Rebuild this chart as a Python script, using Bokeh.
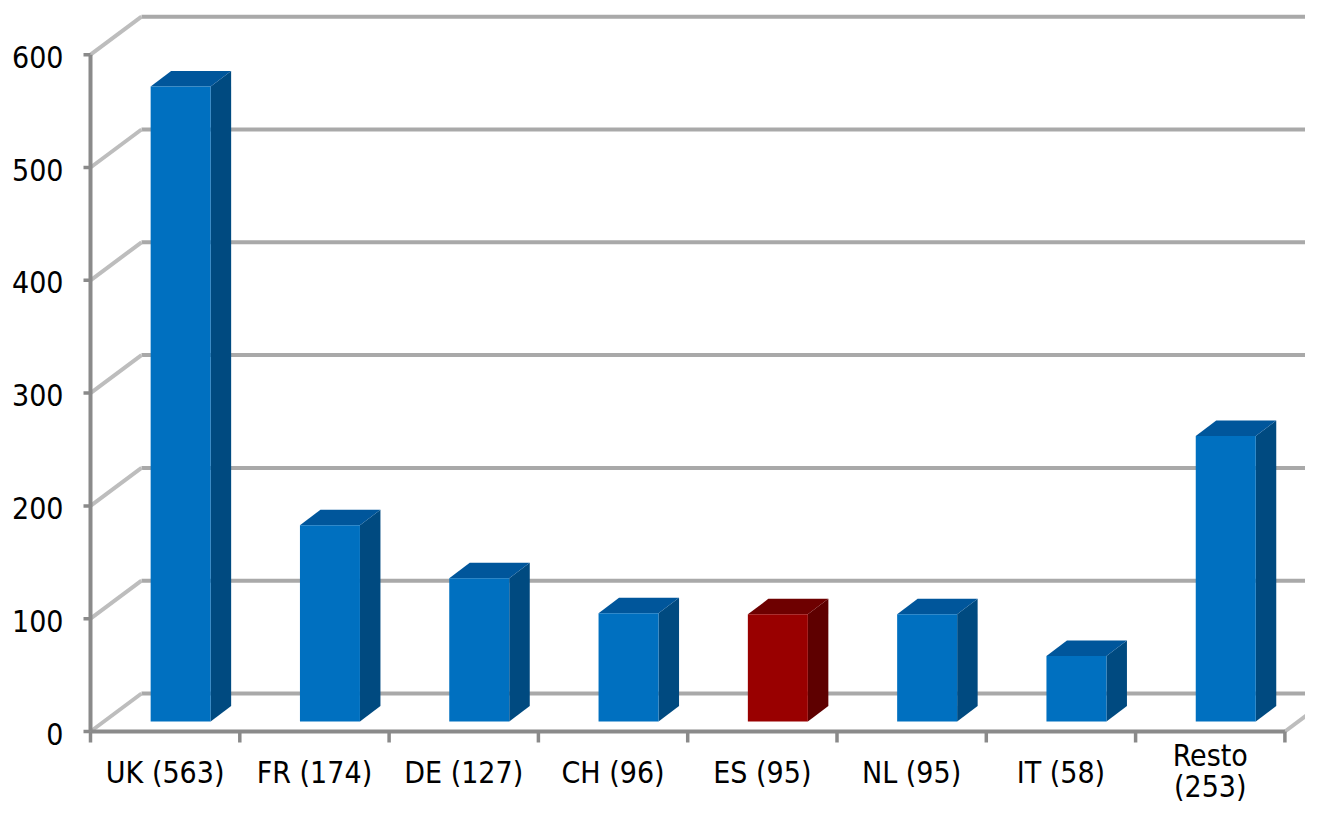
from bokeh.plotting import figure
from bokeh.models import Range1d
from bokeh.core.properties import value
from bokeh.embed import file_html
from bokeh.resources import INLINE

# ---------------- data ----------------
categories = ["UK", "FR", "DE", "CH", "ES", "NL", "IT", "Resto"]
counts = [563, 174, 127, 96, 95, 95, 58, 253]
x_labels = ["UK (563)", "FR (174)", "DE (127)", "CH (96)", "ES (95)",
            "NL (95)", "IT (58)", "Resto\n(253)"]
y_ticks = [0, 100, 200, 300, 400, 500, 600]
highlight = "ES"

# ---------------- geometry (pixels -> data units) ----------------
W, H = 1305, 805
SX = 149.3          # px per category
SY = 1.128          # px per value unit
AX0, AY0 = 90.0, 731.0   # canvas position of the front-plane origin

x_start = -AX0 / SX
x_end = (W - AX0) / SX
y_end = AY0 / SY
y_start = (AY0 - H) / SY

WALL_DX, WALL_DY = 51 / SX, 38 / SY
BAR_DX0, BAR_DY0 = 15.5 / SX, 10 / SY
BAR_W = 60 / SX
BDX, BDY = 20.5 / SX, 15.5 / SY

n = len(categories)
FONT = "DejaVu Sans Condensed"
FSIZE = "30px"

p = figure(width=W, height=H, x_range=Range1d(x_start, x_end),
           y_range=Range1d(y_start, y_end), output_backend="svg",
           toolbar_location=None, min_border=0,
           x_axis_location=None, y_axis_location=None)
p.grid.visible = False
p.outline_line_color = None
p.background_fill_color = "white"
p.border_fill_color = "white"

GRID = "#a9a9a9"
SIDEGRID = "#bdbdbd"
AXIS = "#8a8a8a"

# back wall gridlines (incl. floor back edge)
p.multi_line(xs=[[WALL_DX, n + WALL_DX + 1] for _ in y_ticks],
             ys=[[t + WALL_DY, t + WALL_DY] for t in y_ticks],
             line_color=GRID, line_width=4)
# left wall diagonals
p.multi_line(xs=[[0, WALL_DX] for _ in y_ticks],
             ys=[[t, t + WALL_DY] for t in y_ticks],
             line_color=SIDEGRID, line_width=4)
# floor right edge
p.line(x=[n, n + WALL_DX], y=[0, WALL_DY], line_color=SIDEGRID, line_width=4)

# axes lines
p.line(x=[0, 0], y=[0, y_ticks[-1]], line_color=AXIS, line_width=4)
p.line(x=[0, n], y=[0, 0], line_color=AXIS, line_width=4)
# y ticks
tick_len_x = 7 / SX
p.multi_line(xs=[[-tick_len_x, 0] for _ in y_ticks],
             ys=[[t, t] for t in y_ticks], line_color=AXIS, line_width=3.5)
# x ticks
tick_len_y = 11 / SY
p.multi_line(xs=[[i, i] for i in range(n + 1)],
             ys=[[0, -tick_len_y] for _ in range(n + 1)],
             line_color=AXIS, line_width=3.5)

# bars
BLUE = ("#0070c0", "#004a80", "#00569b")
RED = ("#990000", "#5e0000", "#6e0000")
lefts, rights, bottoms, tops = [], [], [], []
fronts, sides_c, tops_c = [], [], []
side_xs, side_ys, top_xs, top_ys = [], [], [], []
for i, (c, v) in enumerate(zip(categories, counts)):
    l = i + 0.5 + BAR_DX0 - BAR_W / 2
    r = l + BAR_W
    b = BAR_DY0
    t = v + BAR_DY0
    pal = RED if c == highlight else BLUE
    lefts.append(l); rights.append(r); bottoms.append(b); tops.append(t)
    fronts.append(pal[0]); sides_c.append(pal[1]); tops_c.append(pal[2])
    side_xs.append([r, r + BDX, r + BDX, r])
    side_ys.append([b, b + BDY, t + BDY, t])
    top_xs.append([l, r, r + BDX, l + BDX])
    top_ys.append([t, t, t + BDY, t + BDY])

p.patches(xs=side_xs, ys=side_ys, fill_color=sides_c, line_color=None)
p.patches(xs=top_xs, ys=top_ys, fill_color=tops_c, line_color=None)
p.quad(left=lefts, right=rights, bottom=bottoms, top=tops,
       fill_color=fronts, line_color=None)

# y tick labels
p.text(x=[(63 - AX0) / SX] * len(y_ticks), y=y_ticks,
       text=[str(t) for t in y_ticks], text_align="right",
       text_baseline="middle", y_offset=2,
       text_font=value(FONT), text_font_size=FSIZE, text_color="black")

# x labels (single-line and wrapped ones)
single = [(i + 0.5, s) for i, s in enumerate(x_labels) if "\n" not in s]
multi = [(i + 0.5, s) for i, s in enumerate(x_labels) if "\n" in s]
p.text(x=[a for a, _ in single], y=[-(754 - AY0) / SY] * len(single),
       text=[s for _, s in single], text_align="center", text_baseline="top",
       text_font=value(FONT), text_font_size=FSIZE, text_color="black")
p.text(x=[a for a, _ in multi], y=[-(737 - AY0) / SY] * len(multi),
       text=[s for _, s in multi], text_align="center", text_baseline="top",
       text_line_height=0.9,
       text_font=value(FONT), text_font_size=FSIZE, text_color="black")

open("out.html", "w").write(file_html(p, INLINE))
